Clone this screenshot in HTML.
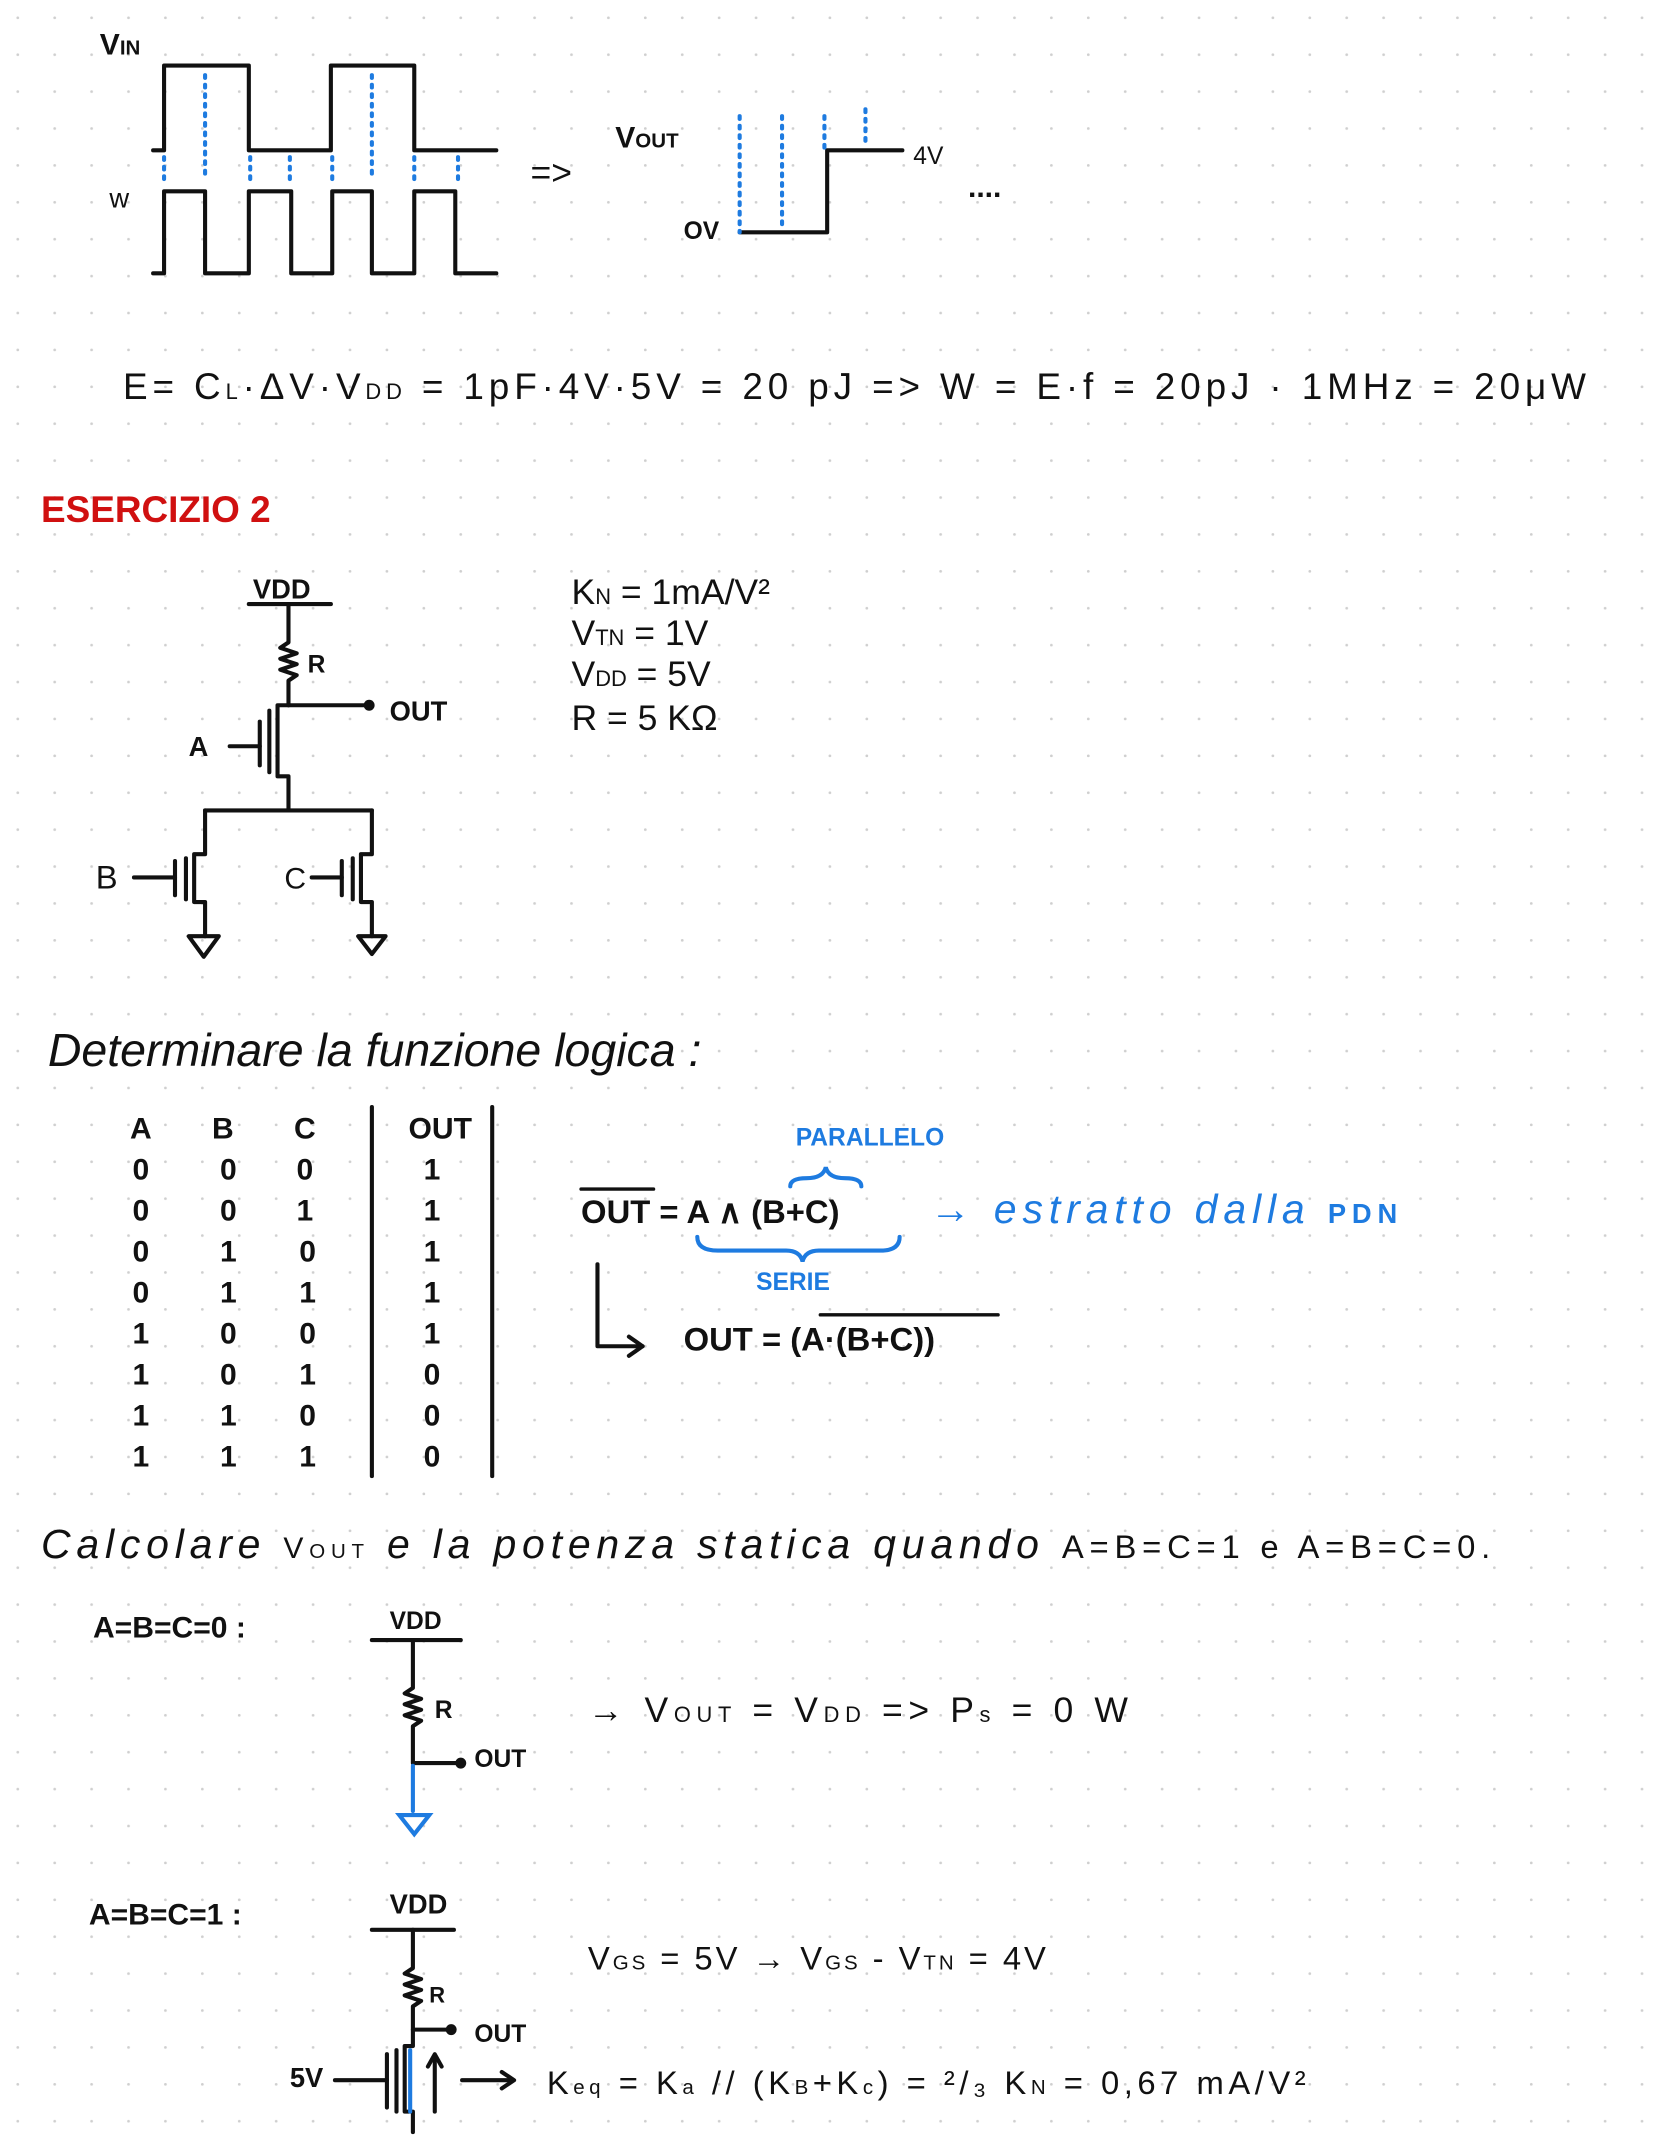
<!DOCTYPE html>
<html><head><meta charset="utf-8"><style>
html,body{margin:0;padding:0;background:#fff;}
svg{display:block;}
text{font-family:"Liberation Sans",sans-serif;fill:#111;}
</style></head><body>
<svg width="1668" height="2154" viewBox="0 0 1220 1576" preserveAspectRatio="none" xmlns="http://www.w3.org/2000/svg">
<defs>
<pattern id="dots" width="27" height="27" patternUnits="userSpaceOnUse"><circle cx="13" cy="13" r="1" fill="#cfcfcf"/></pattern>
</defs>
<rect width="1220" height="1576" fill="#fff"/>
<rect width="1220" height="1576" fill="url(#dots)"/>
<g fill="none" stroke="#111" stroke-width="3" stroke-linecap="round" stroke-linejoin="round">
<polyline points="112,110 120,110 120,48 182,48 182,110 242,110 242,48 303,48 303,110 363,110"/>
<polyline points="112,200 120,200 120,140 150,140 150,200 182,200 182,140 213,140 213,200 243,200 243,140 272,140 272,200 303,200 303,140 333,140 333,200 363,200"/>
<polyline points="541,170 605,170 605,110 660,110"/>
<line x1="182" y1="442" x2="242" y2="442"/>
<polyline points="211,442 211,470 205,474 217,478 205,482 217,486 205,490 217,494 211,498 211,516"/>
<line x1="211" y1="516" x2="270" y2="516"/>
<polyline points="211,516 203,516 203,568 211,568 211,593"/>
<line x1="197" y1="520" x2="197" y2="565"/>
<line x1="190" y1="528" x2="190" y2="560"/>
<line x1="168" y1="546" x2="190" y2="546"/>
<line x1="150" y1="593" x2="272" y2="593"/>
<polyline points="150,593 150,625 142,625 142,660 150,660 150,685"/>
<line x1="136" y1="628" x2="136" y2="658"/><line x1="128" y1="630" x2="128" y2="655"/><line x1="98" y1="642" x2="128" y2="642"/>
<polygon points="138,685 160,685 149,700"/>
<polyline points="272,593 272,625 264,625 264,660 272,660 272,685"/>
<line x1="258" y1="628" x2="258" y2="658"/><line x1="250" y1="630" x2="250" y2="655"/><line x1="228" y1="642" x2="250" y2="642"/>
<polygon points="262,685 282,685 272,698"/>
<line x1="272" y1="810" x2="272" y2="1080"/>
<line x1="360" y1="810" x2="360" y2="1080"/>
<line x1="425" y1="870" x2="478" y2="870" stroke-width="2.5"/>
<polyline points="437,925 437,985 470,985"/><polyline points="460,978 470,985 460,992"/>
<line x1="600" y1="962" x2="730" y2="962" stroke-width="2.5"/>
<line x1="272" y1="1200" x2="337" y2="1200"/>
<polyline points="302,1200 302,1235 296,1239 308,1243 296,1247 308,1251 296,1255 308,1259 302,1263 302,1290 335,1290"/>
<line x1="272" y1="1412" x2="332" y2="1412"/>
<polyline points="302,1412 302,1440 296,1444 308,1448 296,1452 308,1456 296,1460 308,1464 302,1468 302,1485 330,1485"/>
<polyline points="302,1485 302,1497 296,1497 296,1545 302,1545 302,1560"/>
<line x1="290" y1="1500" x2="290" y2="1545"/><line x1="283" y1="1503" x2="283" y2="1542"/>
<line x1="245" y1="1522" x2="283" y2="1522"/>
<line x1="318" y1="1545" x2="318" y2="1505"/><polyline points="313,1512 318,1503 323,1512"/>
<line x1="338" y1="1522" x2="375" y2="1522"/><polyline points="367,1516 376,1522 367,1528"/>
</g>
<g fill="#111"><circle cx="270" cy="516" r="4"/><circle cx="337" cy="1290" r="4"/><circle cx="330" cy="1485" r="4"/></g>
<g fill="none" stroke="#1e7be0" stroke-width="3" stroke-dasharray="2 5" stroke-linecap="round">
<line x1="150" y1="55" x2="150" y2="130"/><line x1="272" y1="55" x2="272" y2="130"/>
<line x1="120" y1="115" x2="120" y2="135"/><line x1="183" y1="115" x2="183" y2="135"/><line x1="212" y1="115" x2="212" y2="135"/>
<line x1="243" y1="115" x2="243" y2="135"/><line x1="303" y1="115" x2="303" y2="135"/><line x1="335" y1="115" x2="335" y2="135"/>
<line x1="541" y1="85" x2="541" y2="170"/><line x1="572" y1="85" x2="572" y2="165"/><line x1="603" y1="85" x2="603" y2="108"/><line x1="633" y1="80" x2="633" y2="105"/>
</g>
<g fill="none" stroke="#1e7be0" stroke-width="3" stroke-linecap="round">
<line x1="302" y1="1292" x2="302" y2="1325"/><polygon points="292,1328 314,1328 303,1342"/>
<line x1="300" y1="1500" x2="300" y2="1545"/>
<path d="M578 868 q0 -6 12 -6 q12 0 14 -8 q2 8 14 8 q12 0 12 6"/>
<path d="M510 905 q0 10 15 10 h50 q10 0 12 8 q2 -8 12 -8 h45 q14 0 14 -10"/>
</g>
<text x="73" y="40" font-size="22" font-weight="bold">V<tspan font-size="15">IN</tspan></text>
<text x="80" y="152" font-size="20">w</text>
<text x="388" y="135" font-size="26">=&gt;</text>
<text x="450" y="108" font-size="22" font-weight="bold">V<tspan font-size="15">OUT</tspan></text>
<text x="500" y="175" font-size="18" font-weight="bold">OV</text>
<text x="668" y="120" font-size="18">4V</text>
<text x="708" y="144" font-size="22" font-weight="bold">....</text>
<text x="90" y="292" font-size="27" textLength="1070" lengthAdjust="spacing">E= C<tspan font-size="16">L</tspan>·ΔV·V<tspan font-size="16">DD</tspan> =  1pF·4V·5V =  20 pJ  =&gt;  W = E·f = 20pJ ·  1MHz =  20μW</text>
<text x="30" y="382" font-size="27" font-weight="bold" style="fill:#d01010">ESERCIZIO 2</text>
<text x="185" y="438" font-size="20" font-weight="bold">VDD</text>
<text x="225" y="492" font-size="18" font-weight="bold">R</text>
<text x="285" y="527" font-size="20" font-weight="bold">OUT</text>
<text x="138" y="553" font-size="20" font-weight="bold">A</text>
<text x="70" y="650" font-size="24">B</text>
<text x="208" y="650" font-size="22">C</text>
<text x="418" y="442" font-size="26">K<tspan font-size="16">N</tspan> = 1mA/V²</text>
<text x="418" y="472" font-size="26">V<tspan font-size="16">TN</tspan> = 1V</text>
<text x="418" y="502" font-size="26">V<tspan font-size="16">DD</tspan> = 5V</text>
<text x="418" y="534" font-size="26">R = 5 KΩ</text>
<text x="35" y="780" font-size="34" font-style="italic" font-family="Liberation Serif">Determinare  la  funzione  logica :</text>
<g font-size="22" font-weight="bold" text-anchor="middle">
<text x="103" y="833">A</text><text x="163" y="833">B</text><text x="223" y="833">C</text><text x="322" y="833">OUT</text>
<text x="103" y="863">0</text><text x="167" y="863">0</text><text x="223" y="863">0</text><text x="316" y="863">1</text>
<text x="103" y="893">0</text><text x="167" y="893">0</text><text x="223" y="893">1</text><text x="316" y="893">1</text>
<text x="103" y="923">0</text><text x="167" y="923">1</text><text x="225" y="923">0</text><text x="316" y="923">1</text>
<text x="103" y="953">0</text><text x="167" y="953">1</text><text x="225" y="953">1</text><text x="316" y="953">1</text>
<text x="103" y="983">1</text><text x="167" y="983">0</text><text x="225" y="983">0</text><text x="316" y="983">1</text>
<text x="103" y="1013">1</text><text x="167" y="1013">0</text><text x="225" y="1013">1</text><text x="316" y="1013">0</text>
<text x="103" y="1043">1</text><text x="167" y="1043">1</text><text x="225" y="1043">0</text><text x="316" y="1043">0</text>
<text x="103" y="1073">1</text><text x="167" y="1073">1</text><text x="225" y="1073">1</text><text x="316" y="1073">0</text>
</g>
<text x="582" y="838" font-size="18" font-weight="bold" style="fill:#1e7be0">PARALLELO</text>
<text x="425" y="895" font-size="24" font-weight="bold">OUT =  A ∧ (B+C)</text>
<text x="680" y="895" font-size="30" font-style="italic" font-family="Liberation Serif" style="fill:#1e7be0" textLength="342" lengthAdjust="spacing">→ estratto dalla <tspan font-size="20" font-style="normal" font-family="Liberation Sans" font-weight="bold">PDN</tspan></text>
<text x="553" y="944" font-size="18" font-weight="bold" style="fill:#1e7be0">SERIE</text>
<text x="500" y="988" font-size="24" font-weight="bold">OUT =  (A·(B+C))</text>
<text x="30" y="1140" font-size="30" font-style="italic" font-family="Liberation Serif" textLength="1060" lengthAdjust="spacing">Calcolare  <tspan font-style="normal" font-family="Liberation Sans" font-size="22">V<tspan font-size="15">OUT</tspan></tspan>  e  la  potenza  statica  quando  <tspan font-style="normal" font-family="Liberation Sans" font-size="24">A=B=C=1  e  A=B=C=0.</tspan></text>
<text x="68" y="1198" font-size="22" font-weight="bold">A=B=C=0 :</text>
<text x="285" y="1192" font-size="18" font-weight="bold">VDD</text>
<text x="318" y="1257" font-size="18" font-weight="bold">R</text>
<text x="347" y="1293" font-size="18" font-weight="bold">OUT</text>
<text x="430" y="1260" font-size="26" textLength="395" lengthAdjust="spacing">→   V<tspan font-size="16">OUT</tspan> = V<tspan font-size="16">DD</tspan>  =&gt;   P<tspan font-size="16">s</tspan> = 0 W</text>
<text x="65" y="1408" font-size="22" font-weight="bold">A=B=C=1 :</text>
<text x="285" y="1400" font-size="20" font-weight="bold">VDD</text>
<text x="314" y="1465" font-size="16" font-weight="bold">R</text>
<text x="347" y="1494" font-size="18" font-weight="bold">OUT</text>
<text x="430" y="1441" font-size="24" textLength="335" lengthAdjust="spacing">V<tspan font-size="15">GS</tspan> = 5V →  V<tspan font-size="15">GS</tspan> - V<tspan font-size="15">TN</tspan> = 4V</text>
<text x="212" y="1527" font-size="20" font-weight="bold">5V</text>
<text x="400" y="1532" font-size="24" textLength="555" lengthAdjust="spacing">K<tspan font-size="15">eq</tspan> = K<tspan font-size="15">a</tspan> // (K<tspan font-size="15">B</tspan>+K<tspan font-size="15">c</tspan>) =  ²/₃ K<tspan font-size="15">N</tspan>  =  0,67 mA/V²</text>
</svg>
</body></html>
